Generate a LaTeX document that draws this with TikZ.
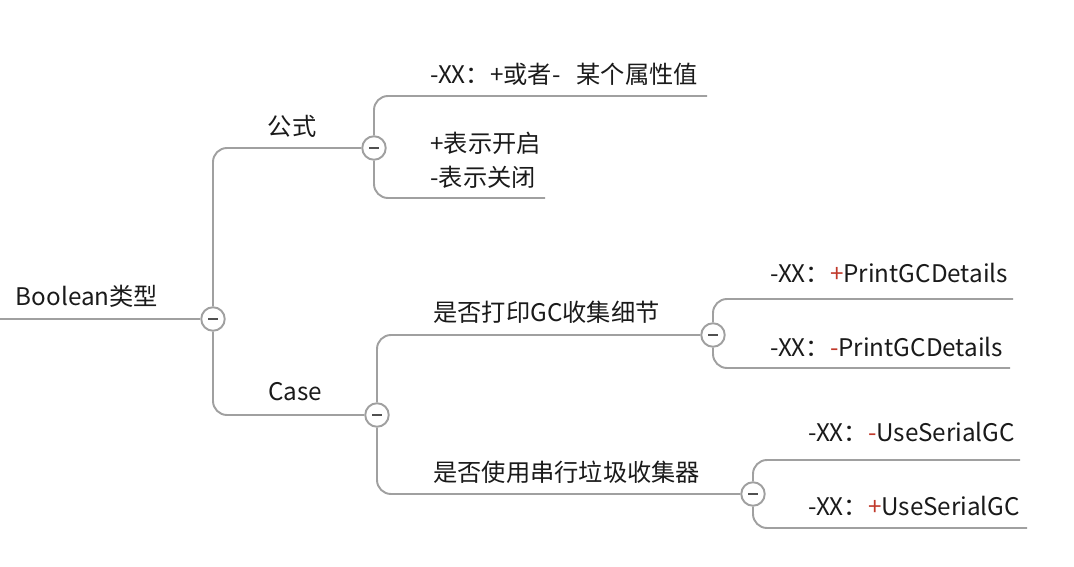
\documentclass[tikz,border=0pt]{standalone}
\usepackage{fontspec}
\setmainfont{Noto Sans CJK SC}
\usetikzlibrary{positioning}

\definecolor{linegray}{HTML}{A0A0A0}
\definecolor{btngray}{HTML}{505050}
\definecolor{signred}{HTML}{C0392B}
\definecolor{inkblack}{HTML}{1A1A1A}
\newcommand{\redplus}{\textcolor{signred}{+}}
\newcommand{\redminus}{\textcolor{signred}{-}}

\begin{document}
\begin{tikzpicture}[x=0.02cm,y=-0.02cm,
    font=\fontsize{13.8}{19.3}\selectfont, text=inkblack,
    branch/.style={draw=linegray, line width=1.1pt, rounded corners=0.28cm},
    fold/.style={circle, draw=linegray, fill=white, line width=1.1pt,
      minimum size=0.47cm, inner sep=0pt,
      path picture={\draw[btngray, line width=1.4pt]
        ([xshift=-0.1cm]path picture bounding box.center) --
        ([xshift=0.1cm]path picture bounding box.center);}},
    leaf/.style={anchor=west, inner sep=0pt, align=left}]
    \useasboundingbox (0,0) rectangle (1074,567);

    % fold buttons
    \node[fold] (c0) at (213,319) {};
    \node[fold] (c1) at (374,148) {};
    \node[fold] (c2) at (377,415) {};
    \node[fold] (c3) at (713,335) {};
    \node[fold] (c4) at (753,494) {};

    % ends of the underlines
    \coordinate (r0)  at (0,319);
    \coordinate (e11) at (707,96);
    \coordinate (e12) at (545,198);
    \coordinate (e31) at (1013,299);
    \coordinate (e32) at (1010,368);
    \coordinate (e41) at (1020,460);
    \coordinate (e42) at (1027,528);

    % topics
    \node (root)  at (87,296)  {Boolean类型};
    \node (gongs) at (292,126) {公式};
    \node (case)  at (295,392) {Case};
    \node[leaf] (t11) at (430,74)  {-XX：+或者-\ \ \ 某个属性值};
    \node[leaf] (t12) at (430,160) {+表示开启\\-表示关闭};
    \node[leaf] (print)  at (433,312) {是否打印GC收集细节};
    \node[leaf] (serial) at (433,472) {是否使用串行垃圾收集器};
    \node[leaf] (t31) at (770,273) {-XX：\redplus PrintGCDetails};
    \node[leaf] (t32) at (770,347) {-XX：\redminus PrintGCDetails};
    \node[leaf] (t41) at (808,432) {-XX：\redminus UseSerialGC};
    \node[leaf] (t42) at (808,506) {-XX：\redplus UseSerialGC};

    % branches
    \draw[branch] (r0) -- (c0);
    \draw[branch] (c0) |- (c1);
    \draw[branch] (c0) |- (c2);
    \draw[branch] (c1) |- (e11);
    \draw[branch] (c1) |- (e12);
    \draw[branch] (c2) |- (c3);
    \draw[branch] (c2) |- (c4);
    \draw[branch] (c3) |- (e31);
    \draw[branch] (c3) |- (e32);
    \draw[branch] (c4) |- (e41);
    \draw[branch] (c4) |- (e42);
\end{tikzpicture}
\end{document}
